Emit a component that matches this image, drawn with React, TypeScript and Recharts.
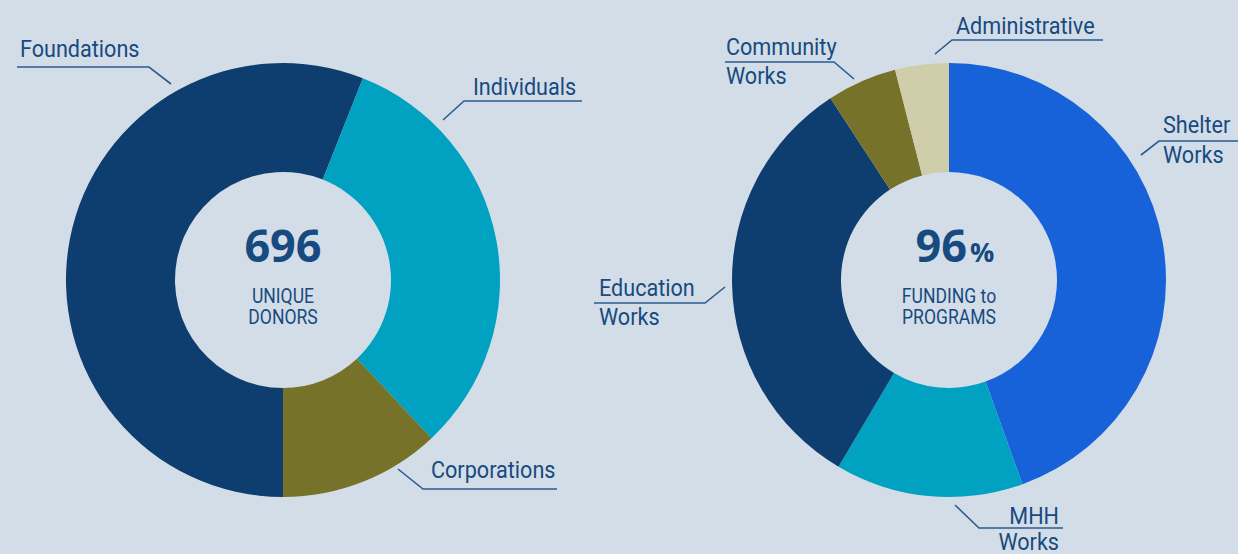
import React from 'react';
import { PieChart, Pie, Cell } from 'recharts';

// left donut: where the donors come from
const donorNames = ['Foundations', 'Individuals', 'Corporations'];
const donorShares = [56, 32, 12];
const donorColors = ['#0e3d6f', '#00a1c1', '#77722a'];

// right donut: where the funding goes
const fundNames = ['Shelter Works', 'MHH Works', 'Education Works', 'Community Works', 'Administrative'];
const fundShares = [44.5, 14, 32.3, 5.2, 4];
const fundColors = ['#1862d9', '#00a1c1', '#0e3d6f', '#77722a', '#cfcdaa'];

const donorCenter = { big: '696', unit: '', shift: 0, lines: ['UNIQUE', 'DONORS'] };
const fundCenter = { big: '96', unit: '%', shift: 6, lines: ['FUNDING to', 'PROGRAMS'] };

const BG = '#d3dde7';
const TEXT = '#174a80';
const LINE = '#2b5b92';
const FONT = 'Roboto, "Noto Sans", sans-serif';
const SQUEEZE = 0.9; // fake a condensed face

interface Callout {
  tip: [number, number];
  elbow: [number, number];
  end: number;
  textX: number;
  anchor: 'start' | 'end';
  up: number;
  above: string[];
  below: string[];
}

// callout placement, relative to each pie's centre
const donorCallouts: Callout[] = [
  { tip: [-112, -196], elbow: [-134, -213], end: -266, textX: -263, anchor: 'start', up: 10, above: ['Foundations'], below: [] },
  { tip: [160, -160], elbow: [181, -179], end: 299, textX: 190, anchor: 'start', up: 6, above: ['Individuals'], below: [] },
  { tip: [115, 189], elbow: [140, 209], end: 274, textX: 148, anchor: 'start', up: 11, above: ['Corporations'], below: [] },
];

const fundCallouts: Callout[] = [
  { tip: [192, -125], elbow: [210, -139], end: 295, textX: 214, anchor: 'start', up: 8, above: ['Shelter'], below: ['Works'] },
  { tip: [6, 225], elbow: [30, 248], end: 114, textX: 110, anchor: 'end', up: 4, above: ['MHH'], below: ['Works'] },
  { tip: [-224, 7], elbow: [-244, 23], end: -355, textX: -350, anchor: 'start', up: 7, above: ['Education'], below: ['Works'] },
  { tip: [-95, -201], elbow: [-115, -218], end: -224, textX: -223, anchor: 'start', up: 7, above: ['Community'], below: ['Works'] },
  { tip: [-14, -226], elbow: [3, -240], end: 154, textX: 7, anchor: 'start', up: 6, above: ['Administrative'], below: [] },
];

const donorData = donorNames.map((name, i) => ({ name, value: donorShares[i] }));
const fundData = fundNames.map((name, i) => ({ name, value: fundShares[i] }));

type CenterText = { big: string; unit: string; shift: number; lines: string[] };

function Narrow({ x, y, size, anchor = 'start', children }: any) {
  return (
    <text
      transform={`translate(${x},${y}) scale(${SQUEEZE},1)`}
      textAnchor={anchor}
      fill={TEXT}
      fontFamily={FONT}
      fontSize={size}
    >
      {children}
    </text>
  );
}

function makeLabel(callouts: Callout[], center: CenterText) {
  return (props: any) => {
    const { cx, cy, index } = props;
    const c = callouts[index];
    if (!c) return null;
    const ex = cx + c.elbow[0];
    const ey = cy + c.elbow[1];
    return (
      <g key={`lbl-${index}`}>
        <polyline
          points={`${cx + c.tip[0]},${cy + c.tip[1]} ${ex},${ey} ${cx + c.end},${ey}`}
          fill="none"
          stroke={LINE}
          strokeWidth={1.6}
        />
        {c.above.map((t, i) => (
          <Narrow key={`a${i}`} x={cx + c.textX} y={ey - c.up} size={24} anchor={c.anchor}>
            {t}
          </Narrow>
        ))}
        {c.below.map((t, i) => (
          <Narrow key={`b${i}`} x={cx + c.textX} y={ey + 22 + i * 28} size={24} anchor={c.anchor}>
            {t}
          </Narrow>
        ))}
        {index === 0 && (
          <g>
            <text x={cx + center.shift} y={cy - 18} textAnchor="middle" fill={TEXT}
              fontFamily='"Open Sans", sans-serif' fontWeight={700} fontSize={45}>
              {center.big}
              {center.unit && <tspan dx={3} fontSize={27}>{center.unit}</tspan>}
            </text>
            {center.lines.map((t, i) => (
              <Narrow key={`c${i}`} x={cx} y={cy + 23 + i * 21} size={19.5} anchor="middle">
                {t}
              </Narrow>
            ))}
          </g>
        )}
      </g>
    );
  };
}

export default function App() {
  return (
    <div style={{ position: 'fixed', left: 0, top: 0, width: 1238, height: 554, background: BG }}>
      <PieChart width={1238} height={554} margin={{ top: 0, right: 0, bottom: 0, left: 0 }}>
        <Pie
          data={donorData}
          dataKey="value"
          cx={283}
          cy={280}
          innerRadius={108}
          outerRadius={217}
          startAngle={-90}
          endAngle={-450}
          stroke="none"
          labelLine={false}
          label={makeLabel(donorCallouts, donorCenter)}
          isAnimationActive={false}
        >
          {donorData.map((d, i) => (
            <Cell key={d.name} fill={donorColors[i]} />
          ))}
        </Pie>
        <Pie
          data={fundData}
          dataKey="value"
          cx={949}
          cy={280}
          innerRadius={108}
          outerRadius={217}
          startAngle={90}
          endAngle={-270}
          stroke="none"
          labelLine={false}
          label={makeLabel(fundCallouts, fundCenter)}
          isAnimationActive={false}
        >
          {fundData.map((d, i) => (
            <Cell key={d.name} fill={fundColors[i]} />
          ))}
        </Pie>
      </PieChart>
    </div>
  );
}
